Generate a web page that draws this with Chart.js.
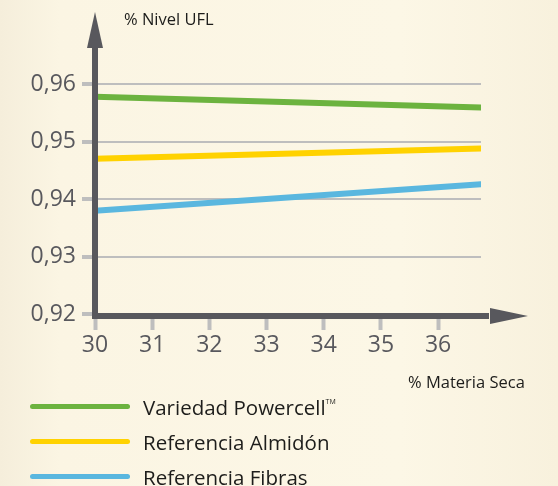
<!DOCTYPE html>
<html>
<head>
<meta charset="utf-8">
<script src="https://cdn.jsdelivr.net/npm/chart.js@4"></script>
<style>
  html, body { margin: 0; padding: 0; }
  body {
    width: 558px; height: 486px; overflow: hidden; position: relative;
    background: linear-gradient(90deg, #f5eedb 0px, #fbf5e3 60px, #fcf7e6 400px, #f8f1dd 558px);
    font-family: "Open Sans", sans-serif;
  }
  #wrap { position: absolute; left: 0; top: 0; width: 558px; height: 486px; }
  .title { position: absolute; font-size: 16.5px; line-height: 22px; color: #1d1d1b; white-space: nowrap; }
  #legend { position: absolute; left: 30px; top: 389px; margin: 0; padding: 0; list-style: none; }
  #legend li { display: flex; align-items: center; height: 35px; }
  #legend .swatch { width: 100px; height: 5px; border-radius: 3px; margin-right: 13px; }
  #legend .txt { font-size: 20.5px; color: #1d1d1b; white-space: nowrap; }
  #legend sup { font-size: 7px; vertical-align: 11px; }
</style>
</head>
<body>
<div id="wrap"><canvas id="chart" width="558" height="486"></canvas></div>
<div class="title" style="left:124px; top:8px;">% Nivel UFL</div>
<div class="title" style="left:408px; top:371px;">% Materia Seca</div>
<ul id="legend"></ul>
<script>
// data
const xValues = [30, 36.75];
const powercell = [0.9578, 0.9559];
const almidon = [0.9470, 0.9488];
const fibras = [0.9380, 0.9426];
const seriesNames = ['Variedad Powercell', 'Referencia Almidón', 'Referencia Fibras'];
const seriesColors = ['#6cb33f', '#ffd200', '#5ab7df'];
const yTicks = [0.92, 0.93, 0.94, 0.95, 0.96];
const xTicks = [30, 31, 32, 33, 34, 35, 36];

const axisColor = '#58585d';
const tickGray = '#bebebe';

function toPoints(vals) {
    return vals.map((v, i) => ({ x: xValues[i], y: v }));
}

// axes with arrows, drawn over the lines
const arrowAxes = {
    id: 'arrowAxes',
    afterDatasetsDraw(chart) {
        const ctx = chart.ctx;
        const a = chart.chartArea;
        const x0 = a.left, y0 = a.bottom;
        ctx.save();
        ctx.fillStyle = axisColor;
        // y axis
        ctx.fillRect(x0 - 3, 40, 6, y0 - 40 + 3);
        ctx.beginPath();
        ctx.moveTo(x0, 12);
        ctx.lineTo(x0 - 8, 48);
        ctx.lineTo(x0 + 8, 48);
        ctx.closePath();
        ctx.fill();
        // x axis
        ctx.fillRect(x0 - 3, y0 - 3, 492 - x0, 6);
        ctx.beginPath();
        ctx.moveTo(528, y0);
        ctx.lineTo(490, y0 - 8);
        ctx.lineTo(490, y0 + 8);
        ctx.closePath();
        ctx.fill();
        ctx.restore();
    }
};

const chart = new Chart(document.getElementById('chart'), {
    type: 'line',
    data: {
        datasets: [powercell, almidon, fibras].map((vals, i) => ({
            label: seriesNames[i],
            data: toPoints(vals),
            borderColor: seriesColors[i],
            backgroundColor: seriesColors[i],
            borderWidth: 6,
            borderCapStyle: 'round',
            pointRadius: 0,
            tension: 0
        }))
    },
    options: {
        responsive: false,
        animation: false,
        layout: { padding: { left: 0, top: 84, right: 77, bottom: 0 } },
        plugins: { legend: { display: false }, tooltip: { enabled: false } },
        scales: {
            x: {
                type: 'linear',
                min: 30,
                max: 36.75,
                afterFit: (s) => { s.height = 170; },
                afterBuildTicks: (s) => { s.ticks = xTicks.map(v => ({ value: v })); },
                border: { display: false },
                grid: {
                    drawOnChartArea: false,
                    tickLength: 14,
                    tickWidth: 4,
                    tickColor: tickGray
                },
                ticks: {
                    color: axisColor,
                    font: { family: 'Open Sans', size: 23 },
                    padding: 2,
                    maxRotation: 0
                }
            },
            y: {
                min: 0.9197,
                max: 0.96,
                afterFit: (s) => { s.width = 95; },
                afterBuildTicks: (s) => { s.ticks = yTicks.map(v => ({ value: v })); },
                border: { display: false },
                grid: {
                    color: tickGray,
                    lineWidth: 2,
                    tickLength: 13,
                    tickWidth: 4,
                    tickColor: tickGray
                },
                ticks: {
                    color: axisColor,
                    font: { family: 'Open Sans', size: 23 },
                    padding: 6,
                    callback: (v) => v.toFixed(2).replace('.', ',')
                }
            }
        }
    },
    plugins: [arrowAxes]
});

// html legend built from the datasets
const legend = document.getElementById('legend');
chart.data.datasets.forEach((ds, i) => {
    const li = document.createElement('li');
    const tm = i === 0 ? '<sup>TM</sup>' : '';
    li.innerHTML = `<span class="swatch" style="background:${ds.borderColor}"></span><span class="txt">${ds.label}${tm}</span>`;
    legend.appendChild(li);
});
</script>
</body>
</html>
